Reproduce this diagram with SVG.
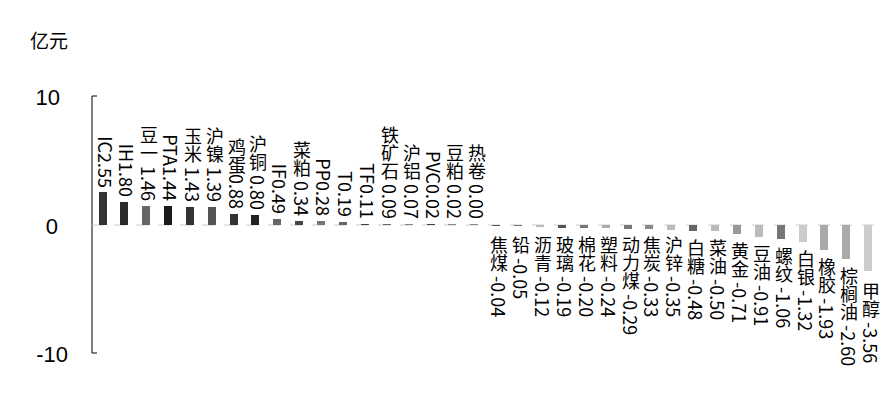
<svg xmlns="http://www.w3.org/2000/svg" width="896" height="408" viewBox="0 0 896 408">
<style>
.l{font-family:"Noto Sans CJK SC","Liberation Sans",sans-serif;font-size:18px;fill:#000;writing-mode:vertical-rl}
.p{text-anchor:end}
.a{font-family:"Liberation Sans","Noto Sans CJK SC",sans-serif;font-size:22px;fill:#000;text-anchor:end}
</style>
<rect width="896" height="408" fill="#fff"/>
<text x="30" y="48" style="font-family:'Noto Sans CJK SC',sans-serif;font-size:19px">亿元</text>
<g id="axis" stroke="#000" stroke-width="1" fill="none">
<path d="M97 96H92V353H97"/>
<line x1="92" y1="225" x2="880" y2="225" stroke="#ccc" stroke-dasharray="12 10"/>
</g>
<text class="a" x="60" y="105">10</text>
<text class="a" x="58" y="234">0</text>
<text class="a" x="68" y="362">-10</text>
<g id="bars">
<rect x="99" y="192" width="8" height="33" fill="#333"/>
<rect x="120" y="202" width="8" height="23" fill="#2a2a2a"/>
<rect x="142" y="206" width="8" height="19" fill="#666"/>
<rect x="164" y="206" width="8" height="19" fill="#1a1a1a"/>
<rect x="186" y="207" width="8" height="18" fill="#333"/>
<rect x="208" y="207" width="8" height="18" fill="#555"/>
<rect x="230" y="214" width="8" height="11" fill="#333"/>
<rect x="251" y="215" width="8" height="10" fill="#222"/>
<rect x="273" y="219" width="8" height="6" fill="#666"/>
<rect x="295" y="221" width="8" height="4" fill="#444"/>
<rect x="317" y="221" width="8" height="4" fill="#777"/>
<rect x="339" y="222" width="8" height="3" fill="#666"/>
<rect x="361" y="224" width="8" height="1" fill="#444"/>
<rect x="383" y="224" width="8" height="1" fill="#666"/>
<rect x="405" y="224" width="8" height="1" fill="#888"/>
<rect x="427" y="224" width="8" height="1" fill="#444"/>
<rect x="448" y="224" width="8" height="1" fill="#888"/>
<rect x="470" y="224" width="8" height="1" fill="#888"/>
<rect x="492" y="225" width="8" height="1" fill="#555"/>
<rect x="514" y="225" width="8" height="1" fill="#777"/>
<rect x="536" y="225" width="8" height="2" fill="#bbb"/>
<rect x="558" y="225" width="8" height="3" fill="#555"/>
<rect x="580" y="225" width="8" height="3" fill="#777"/>
<rect x="602" y="225" width="8" height="3" fill="#aaa"/>
<rect x="624" y="225" width="8" height="4" fill="#777"/>
<rect x="645" y="225" width="8" height="4" fill="#888"/>
<rect x="667" y="225" width="8" height="5" fill="#bbb"/>
<rect x="689" y="225" width="8" height="6" fill="#666"/>
<rect x="711" y="225" width="8" height="6" fill="#bbb"/>
<rect x="733" y="225" width="8" height="9" fill="#999"/>
<rect x="755" y="225" width="8" height="12" fill="#bbb"/>
<rect x="777" y="225" width="8" height="14" fill="#777"/>
<rect x="799" y="225" width="8" height="17" fill="#ccc"/>
<rect x="820" y="225" width="8" height="25" fill="#aaa"/>
<rect x="842" y="225" width="8" height="34" fill="#aaa"/>
<rect x="864" y="225" width="8" height="46" fill="#ccc"/>
</g>
<g id="labels">
<text class="l p" x="106" y="188">IC2.55</text>
<text class="l p" x="127" y="197">IH1.80</text>
<text class="l p" x="149" y="201">豆一 1.46</text>
<text class="l p" x="171" y="201">PTA1.44</text>
<text class="l p" x="193" y="202">玉米 1.43</text>
<text class="l p" x="215" y="202">沪镍 1.39</text>
<text class="l p" x="237" y="209">鸡蛋0.88</text>
<text class="l p" x="258" y="210">沪铜 0.80</text>
<text class="l p" x="280" y="214">IF0.49</text>
<text class="l p" x="302" y="216">菜粕 0.34</text>
<text class="l p" x="324" y="216">PP0.28</text>
<text class="l p" x="346" y="217">T0.19</text>
<text class="l p" x="368" y="219">TF0.11</text>
<text class="l p" x="390" y="219">铁矿石 0.09</text>
<text class="l p" x="412" y="219">沪铝 0.07</text>
<text class="l p" x="434" y="219">PVC0.02</text>
<text class="l p" x="455" y="219">豆粕 0.02</text>
<text class="l p" x="477" y="219">热卷 0.00</text>
<text class="l" x="499" y="236">焦煤 -0.04</text>
<text class="l" x="521" y="236">铅 -0.05</text>
<text class="l" x="543" y="236">沥青 -0.12</text>
<text class="l" x="565" y="236">玻璃 -0.19</text>
<text class="l" x="587" y="236">棉花 -0.20</text>
<text class="l" x="609" y="236">塑料 -0.24</text>
<text class="l" x="631" y="236">动力煤 -0.29</text>
<text class="l" x="652" y="236">焦炭 -0.33</text>
<text class="l" x="674" y="236">沪锌 -0.35</text>
<text class="l" x="696" y="239">白糖 -0.48</text>
<text class="l" x="718" y="239">菜油 -0.50</text>
<text class="l" x="740" y="242">黄金 -0.71</text>
<text class="l" x="762" y="245">豆油 -0.91</text>
<text class="l" x="784" y="247">螺纹 -1.06</text>
<text class="l" x="806" y="250">白银 -1.32</text>
<text class="l" x="827" y="258">橡胶 -1.93</text>
<text class="l" x="849" y="267">棕榈油 -2.60</text>
<text class="l" x="871" y="282">甲醇 -3.56</text>
</g>
</svg>
